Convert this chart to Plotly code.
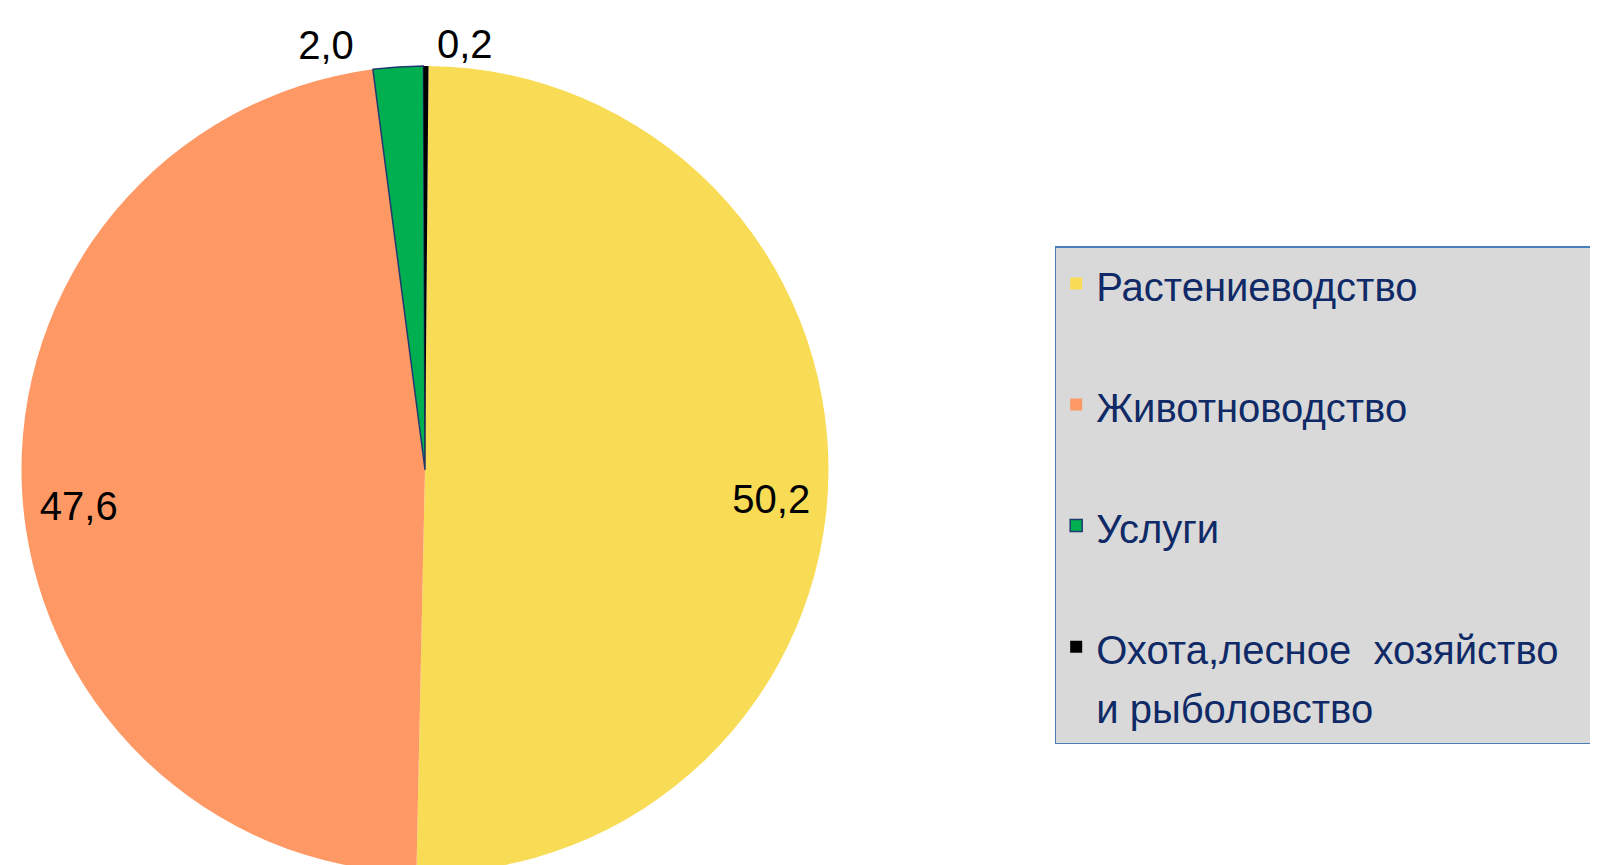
import plotly.graph_objects as go

labels = ["Растениеводство", "Животноводство", "Услуги", "Охота,лесное  хозяйство<br>и рыболовство"]
values = [50.2, 47.6, 2.0, 0.2]
colors = ["#F9DC55", "#FE9966", "#00B050", "#000000"]
line_colors = ["#F9DC55", "#FE9966", "#1F3A6E", "#000000"]
line_widths = [0, 0, 1.5, 0]
text_positions = ["inside", "inside", "outside", "outside"]

FONT = "Liberation Sans, Arial, sans-serif"
TEXT_SIZE = 40
LEGEND_ROW_SIZE = 45.4  # sets legend row pitch; visible text stays TEXT_SIZE
NBSP = "\u00a0"


def legend_label(name, pad, extra=""):
    parts = name.split("<br>")
    body = "<br>".join(f"<span style='font-size:{TEXT_SIZE}px'>{p}</span>" for p in parts)
    return body + (("<br>" + (extra or " ")) if pad else "")


legend_labels = [
    legend_label(l, pad=(i < len(labels) - 1), extra=(NBSP * 42 if i == 0 else ""))
    for i, l in enumerate(labels)
]

# nudge the big inside labels toward the rim and slightly down, like the reference's best-fit placement
templates = [
    NBSP + "<br>" + NBSP * 26 + "%{value:.1f}",
    NBSP + "<br>" + "%{value:.1f}" + NBSP * 26,
    "%{value:.1f}" + NBSP * 3,
    "%{value:.1f}",
]

fig = go.Figure(
    go.Pie(
        labels=legend_labels,
        values=values,
        sort=False,
        direction="clockwise",
        rotation=0.5,
        marker=dict(colors=colors, line=dict(color=line_colors, width=line_widths)),
        texttemplate=templates,
        textposition=text_positions,
        insidetextorientation="horizontal",
        textfont=dict(family=FONT, size=TEXT_SIZE, color="#000000"),
        outsidetextfont=dict(family=FONT, size=TEXT_SIZE, color="#000000"),
        domain=dict(x=[0.00845, 0.51345], y=[0.0, 0.933]),
        hoverinfo="value",
    )
)

fig.update_layout(
    width=1598,
    height=865,
    margin=dict(l=0, r=0, t=0, b=0, autoexpand=False),
    paper_bgcolor="#FFFFFF",
    separators=", ",
    showlegend=True,
    legend=dict(
        x=0.655,
        y=1 - 238 / 865,
        xanchor="left",
        yanchor="top",
        bgcolor="#D9D9D9",
        bordercolor="#4A7EBB",
        borderwidth=1.5,
        valign="top",
        font=dict(family=FONT, size=LEGEND_ROW_SIZE, color="#0F2A66"),
        traceorder="normal",
    ),
)

fig.write_html("out.html")
